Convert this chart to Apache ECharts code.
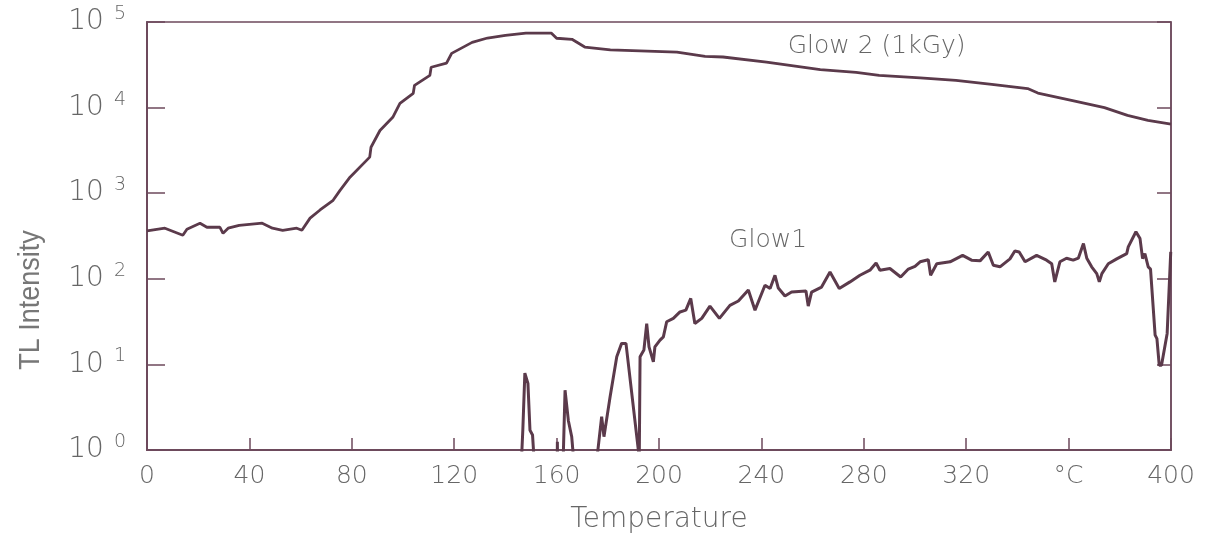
<!DOCTYPE html>
<html>
<head>
<meta charset="utf-8">
<script src="https://cdn.jsdelivr.net/npm/echarts@6/dist/echarts.min.js"></script>
<style>
  html, body { margin: 0; padding: 0; background: #fff; }
  #chart { width: 1220px; height: 536px; }
</style>
</head>
<body>
<div id="chart"></div>
<script>
// Glow 2 (1kGy) 曲线
const tempGlow2 = [0, 7, 14, 15.6, 20.7, 23.4, 28.5, 29.7, 31.7, 36, 45, 49, 53, 58.5, 60.5, 63.7, 67.6, 72.7, 75.4, 79.3,
  87, 87.5, 91, 96, 98.8, 104, 104.5, 110.5, 111, 117, 119, 127, 133, 140, 148, 158, 160, 166, 171, 181, 207,
  218, 225, 242, 263, 277, 286, 302, 316, 330, 344, 348, 362, 374, 383, 391, 400];
const valGlow2 = [363, 390, 323, 380, 446, 400, 400, 340, 390, 422, 446, 390, 369, 390, 369, 511, 637, 826, 1080, 1540,
  2640, 3440, 5400, 7700, 11200, 14700, 18200, 23800, 29600, 33000, 43000, 57800, 65000, 69700, 74000, 74000, 64600, 62800, 51000, 47300, 44500,
  39700, 39000, 34000, 27700, 25800, 23800, 22300, 20800, 18700, 16700, 14800, 12000, 10000, 8100, 7100, 6400];

// Glow1 曲线 (低于 10^0 的点用 0.5, 被裁掉)
const tempGlow1 = [146, 146.8, 147.6, 148.8, 149.6, 150.6, 151.6, 160.2, 160.3, 160.4,
  162.4, 163.3, 164.6, 165.9, 167.2, 175, 177.6, 178.5, 180.9, 183.5,
  185.4, 187.1, 192.3, 192.6, 194.1, 195.2, 196.1, 197.8, 198.4, 200.4,
  201.7, 203, 205.6, 208.2, 210.5, 212.4, 214, 216.7, 219.9, 223.6,
  227.7, 231, 234.9, 237.5, 241.4, 243.4, 245.3, 246.6, 249.2, 251.8,
  257.4, 258.3, 259.6, 263.5, 266.8, 270.4, 274.6, 278.5, 282.4, 284.8,
  286.3, 290.2, 294.4, 297.4, 300, 302, 305.2, 306.1, 308.5, 313.7,
  318.6, 322.1, 325.4, 328.6, 330.6, 333.2, 337.1, 339, 340.7, 343,
  347.5, 351.4, 353.4, 354.6, 356.6, 359.2, 361.8, 363.8, 365.8, 367.1,
  369, 371, 372, 373, 375.5, 378.8, 382.7, 383.3, 386.3, 387.9,
  388.9, 389.8, 391.1, 392, 393.8, 394.5, 395.4, 396.3, 398.5, 399.9];
const valGlow1 = [0.5, 1.7, 7.9, 6, 1.7, 1.5, 0.5, 0.5, 1.25, 0.5,
  0.5, 5.0, 2.2, 1.43, 0.5, 0.5, 2.45, 1.43, 4.2, 12.3,
  17.6, 17.6, 0.8, 12.3, 14.7, 30, 16, 10.7, 16, 19.2,
  21, 31.5, 34.5, 41, 43, 59, 30, 34.5, 48, 34.5,
  49, 55, 74, 43, 84, 77, 110, 78, 63, 70,
  72, 48, 70, 80, 120, 77, 92, 110, 126, 153,
  126, 132, 105, 130, 140, 158, 167, 110, 150, 158,
  188, 165, 162, 206, 144, 138, 171, 211, 206, 158,
  188, 165, 150, 92, 158, 174, 165, 174, 258, 174,
  138, 115, 92, 115, 150, 171, 197, 236, 355, 295,
  172, 197, 138, 130, 22, 20, 9.8, 9.8, 23, 206];

// 坐标轴刻度文字
const xTickLabels = { 360: '°C' };
const seriesNames = ['Glow 2 (1kGy)', 'Glow1'];

const lineColor = '#5b3a4b';
const axisColor = '#6d4a5c';
const textColor = '#666666';
const font = 'DejaVu Sans';

const toPairs = (xs, ys) => xs.map((x, i) => [x, ys[i]]);

const chart = echarts.init(document.getElementById('chart'));

const seriesLabel = {
  show: true, position: 'inside',
  color: textColor, fontFamily: font, fontWeight: 200, fontSize: 25,
  formatter: '{b}',
};

const option = {
  animation: false,
  grid: {
    left: 147, right: 49, top: 22, bottom: 86,
    outerBoundsMode: 'none',
    show: true, borderColor: axisColor, borderWidth: 1.5,
  },
  xAxis: {
    type: 'value',
    min: 0, max: 400, interval: 40,
    name: 'Temperature',
    nameLocation: 'middle',
    nameGap: 56,
    nameTextStyle: { color: textColor, fontFamily: font, fontWeight: 200, fontSize: 28 },
    axisLine: { lineStyle: { color: axisColor, width: 2 } },
    axisTick: { inside: true, length: 12, lineStyle: { color: axisColor, width: 1.5 } },
    axisLabel: {
      color: textColor, fontFamily: font, fontWeight: 200, fontSize: 25, margin: 14,
      showMinLabel: true, showMaxLabel: true,
      formatter: v => xTickLabels[v] || String(v),
    },
    splitLine: { show: false },
  },
  yAxis: [
    {
      type: 'log', logBase: 10, min: 1, max: 100000,
      axisLine: { show: true, lineStyle: { color: axisColor, width: 2 } },
      axisTick: { inside: true, length: 18, lineStyle: { color: axisColor, width: 1.5 } },
      axisLabel: {
        margin: 21,
        formatter: v => '{b|10}{s|' + Math.round(Math.log10(v)) + '}',
        rich: {
          b: { color: textColor, fontFamily: font, fontWeight: 200, fontSize: 28 },
          s: { color: textColor, fontFamily: font, fontWeight: 200, fontSize: 19, padding: [0, 0, 16, 10] },
        },
      },
      splitLine: { show: false },
    },
    {
      type: 'log', logBase: 10, min: 1, max: 100000,
      position: 'right',
      axisLine: { show: true, lineStyle: { color: axisColor, width: 1.5 } },
      axisTick: { inside: true, length: 14, lineStyle: { color: axisColor, width: 1.5 } },
      axisLabel: { show: false },
      splitLine: { show: false },
    },
  ],
  graphic: [
    {
      type: 'text',
      x: 31, y: 300,
      rotation: Math.PI / 2,
      scaleX: 0.9,
      style: {
        text: 'TL Intensity', fill: '#777777',
        fontFamily: 'Liberation Sans', fontSize: 30,
        align: 'center', verticalAlign: 'middle',
      },
    },
  ],
  series: [
    {
      name: seriesNames[0],
      type: 'line',
      data: toPairs(tempGlow2, valGlow2),
      symbol: 'none',
      lineStyle: { color: lineColor, width: 2.8 },
      markPoint: {
        symbol: 'circle', symbolSize: 1,
        itemStyle: { color: 'rgba(0,0,0,0)' },
        label: seriesLabel,
        data: [{ name: seriesNames[0], coord: [285, 51500] }],
      },
    },
    {
      name: seriesNames[1],
      type: 'line',
      data: toPairs(tempGlow1, valGlow1),
      symbol: 'none',
      clip: true,
      lineStyle: { color: lineColor, width: 3 },
      markPoint: {
        symbol: 'circle', symbolSize: 1,
        itemStyle: { color: 'rgba(0,0,0,0)' },
        label: seriesLabel,
        data: [{ name: seriesNames[1], coord: [242.6, 282] }],
      },
    },
  ],
};

chart.setOption(option);
</script>
</body>
</html>
